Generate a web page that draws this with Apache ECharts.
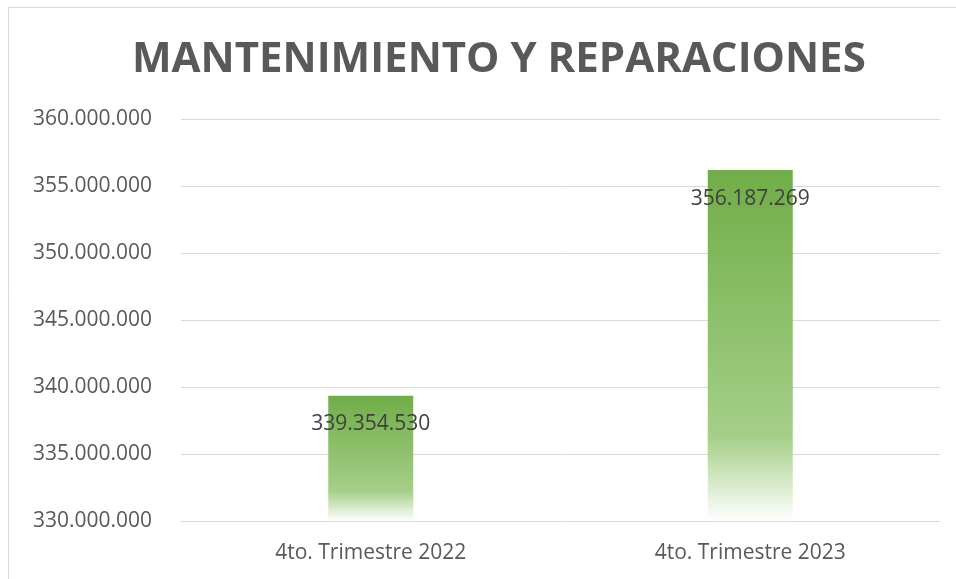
<!DOCTYPE html>
<html>
<head>
<meta charset="utf-8">
<script src="https://cdn.jsdelivr.net/npm/echarts@6/dist/echarts.min.js"></script>
<style>
  html, body { margin: 0; padding: 0; background: #fff; }
  #chart { width: 956px; height: 579px; }
</style>
</head>
<body>
<div id="chart"></div>
<script>
var myChart = echarts.init(document.getElementById('chart'));

var titulo = 'MANTENIMIENTO Y REPARACIONES';
var categorias = ['4to. Trimestre 2022', '4to. Trimestre 2023'];
var valores = [339354530, 356187269];
var ejeMin = 330000000;
var ejeMax = 360000000;
var ejeIntervalo = 5000000;

// numero con puntos de miles
function formato(v) {
    return String(Math.round(v)).replace(/\B(?=(\d{3})+(?!\d))/g, '.');
}

option = {
    animation: false,
    backgroundColor: '#ffffff',
    title: {
        text: titulo,
        left: 127,
        top: 34,
        textStyle: {
            fontFamily: 'Open Sans',
            fontWeight: 'bold',
            fontSize: 42,
            color: '#595959'
        }
    },
    graphic: [
        {
            type: 'rect',
            shape: { x: 8.5, y: 7.5, width: 960, height: 600 },
            style: { fill: 'none', stroke: '#d9d9d9', lineWidth: 1 },
            silent: true
        }
    ],
    grid: {
        left: 181,
        right: 16,
        top: 119,
        bottom: 58
    },
    xAxis: {
        type: 'category',
        data: categorias,
        axisLine: { lineStyle: { color: '#d9d9d9', width: 1 } },
        axisTick: { show: false },
        axisLabel: {
            fontFamily: 'Open Sans',
            fontSize: 21,
            color: '#595959',
            margin: 22
        }
    },
    yAxis: {
        type: 'value',
        min: ejeMin,
        max: ejeMax,
        interval: ejeIntervalo,
        axisLine: { show: false },
        axisTick: { show: false },
        splitLine: { lineStyle: { color: '#d9d9d9', width: 1 } },
        axisLabel: {
            fontFamily: 'Open Sans',
            fontSize: 21,
            color: '#595959',
            margin: 29,
            formatter: formato
        }
    },
    series: [
        {
            type: 'bar',
            data: valores,
            barWidth: 85,
            itemStyle: {
                color: {
                    type: 'linear',
                    x: 0, y: 0, x2: 0, y2: 1,
                    colorStops: [
                        { offset: 0, color: '#70ad47' },
                        { offset: 0.76, color: '#a5cf89' },
                        { offset: 1, color: '#ffffff' }
                    ]
                }
            },
            label: {
                show: true,
                position: 'insideTop',
                distance: 18,
                fontFamily: 'Open Sans',
                fontSize: 21,
                color: '#404040',
                formatter: function (p) { return formato(p.value); }
            }
        }
    ]
};

myChart.setOption(option);
</script>
</body>
</html>
